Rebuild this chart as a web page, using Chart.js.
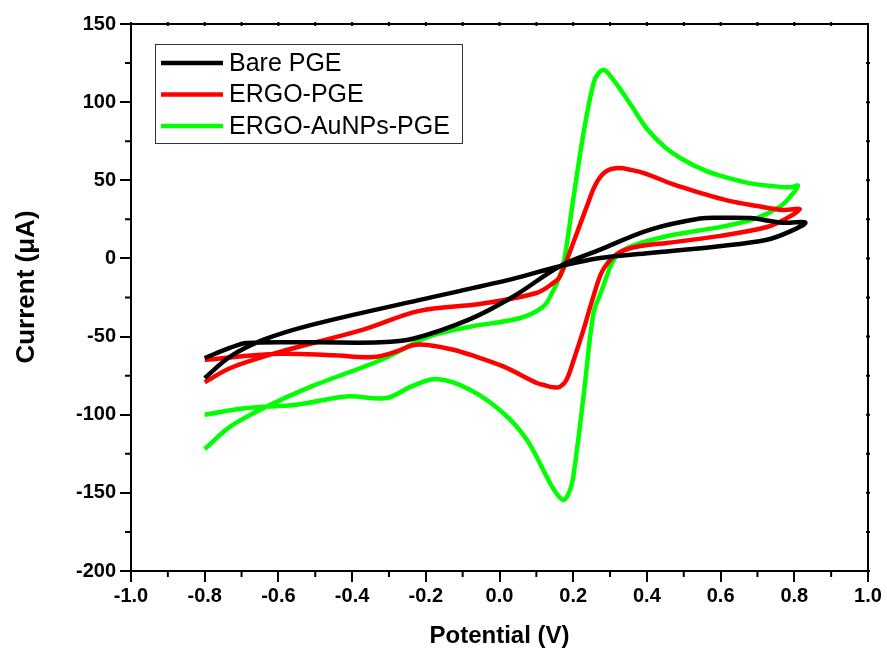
<!DOCTYPE html>
<html>
<head>
<meta charset="utf-8">
<script src="https://cdn.jsdelivr.net/npm/chart.js@4"></script>
<style>
  body { margin: 0; background: #fff; }
  canvas { display: block; }
</style>
</head>
<body>
<canvas id="cvChart" width="887" height="651"></canvas>
<script>
// Tick labels
const xTickValues = [-1.0, -0.8, -0.6, -0.4, -0.2, 0.0, 0.2, 0.4, 0.6, 0.8, 1.0];
const yTickValues = [-200, -150, -100, -50, 0, 50, 100, 150];

// Series names
const seriesNames = ['Bare PGE', 'ERGO-PGE', 'ERGO-AuNPs-PGE'];

// Bare PGE loop (forward branch, then back)
const bareX = [-0.80, -0.73, -0.64, -0.51, -0.216, 0.028, 0.164, 0.273, 0.409, 0.59, 0.726, 0.789, 0.83,
               0.77, 0.68, 0.60, 0.544, 0.409, 0.273, 0.164, 0.04, -0.08, -0.235, -0.324, -0.506, -0.686, -0.732, -0.80];
const bareY = [-76.5, -62.7, -52, -42.5, -26.5, -13.6, -5, 0.3, 3.5, 7.7, 12, 17.3, 23,
               22.8, 25.8, 26.0, 25.5, 18.4, 5.6, -5, -24, -38.8, -51.4, -53.7, -53.7, -54.1, -57.3, -63.7];

// ERGO-PGE loop
const ergoX = [-0.80, -0.73, -0.60, -0.37, -0.22, -0.05, 0.10, 0.146, 0.164, 0.20, 0.237, 0.26, 0.285, 0.32, 0.36, 0.40, 0.47, 0.544, 0.62, 0.70, 0.77, 0.815,
               0.78, 0.726, 0.59, 0.454, 0.40, 0.35, 0.32, 0.295, 0.275, 0.25, 0.228, 0.20, 0.182, 0.165, 0.146, 0.12, 0.101, 0.01, -0.08, -0.125, -0.19, -0.235, -0.279, -0.343, -0.45, -0.60, -0.80];
const ergoY = [-79.3, -70.1, -60.1, -45.6, -33.7, -29, -22.1, -15.7, -11.5, 9.9, 33.3, 47, 55, 57.8, 56.5, 54, 47.5, 42, 37, 33.5, 31, 31.5,
               25.8, 20.1, 14.1, 9.9, 8.5, 6.2, 3, -2.5, -10, -28, -45.6, -66, -77.6, -82, -82.5, -81, -79.7, -69.1, -61.6, -58.4, -55.5, -55.5, -59.5, -63.1, -62, -61, -64.8];

// ERGO-AuNPs-PGE loop
const aunpX = [-0.80, -0.73, -0.64, -0.51, -0.32, -0.19, -0.08, 0.056, 0.119, 0.145, 0.162, 0.175, 0.20, 0.228, 0.255, 0.27, 0.285, 0.30, 0.327, 0.36, 0.40, 0.45, 0.50, 0.56, 0.62, 0.68, 0.74, 0.79, 0.81,
               0.789, 0.762, 0.698, 0.608, 0.472, 0.40, 0.35, 0.325, 0.305, 0.29, 0.275, 0.255, 0.228, 0.20, 0.19, 0.175, 0.16, 0.14, 0.128, 0.074, 0.01, -0.08, -0.17, -0.24, -0.306, -0.415, -0.551, -0.686, -0.80];
const aunpY = [-122, -107.5, -95.7, -81.9, -64.8, -49.9, -43.7, -38.1, -30.7, -21, -12, -2, 37.6, 80.2, 112, 119, 120.5, 117, 108.5, 97, 83, 71, 63, 56, 51.5, 48, 46.3, 45.5, 46.5,
               39.5, 33.3, 25.8, 20.5, 15.2, 11, 7, 3.5, -3, -12, -22, -35, -88.3, -140, -149, -154.5, -152, -145, -139.5, -116, -98.9, -84, -77.2, -82, -89.3, -88.3, -93.6, -95.7, -100];

const seriesColors = ['#000000', '#ff0000', '#00ff00'];

function toPoints(xs, ys) {
    return xs.map((x, i) => ({x: x, y: ys[i]}));
}

const FONT = '"Liberation Sans", Arial, sans-serif';

// Frame, minor ticks, y title and legend box
const frameTicks = {
    id: 'frameTicks',
    afterDraw(chart) {
        const {ctx, chartArea: a, scales: {x, y}} = chart;
        ctx.save();
        ctx.strokeStyle = '#000';
        ctx.lineWidth = 2;
        ctx.beginPath();
        ctx.moveTo(a.left, a.top);
        ctx.lineTo(a.right, a.top);
        ctx.lineTo(a.right, a.bottom);
        ctx.stroke();

        // minor ticks halfway between majors
        ctx.beginPath();
        for (let i = 0; i < xTickValues.length - 1; i++) {
            const px = x.getPixelForValue((xTickValues[i] + xTickValues[i + 1]) / 2);
            ctx.moveTo(px, a.bottom);
            ctx.lineTo(px, a.bottom + 6);
        }
        for (let i = 0; i < yTickValues.length - 1; i++) {
            const py = y.getPixelForValue((yTickValues[i] + yTickValues[i + 1]) / 2);
            ctx.moveTo(a.left, py);
            ctx.lineTo(a.left - 6, py);
        }
        // tiny ticks on top and right edges
        for (let i = 0; i < xTickValues.length - 1; i++) {
            [xTickValues[i], (xTickValues[i] + xTickValues[i + 1]) / 2].forEach(v => {
                const px = x.getPixelForValue(v);
                ctx.moveTo(px, a.top - 2);
                ctx.lineTo(px, a.top + 2);
            });
        }
        for (let i = 0; i < yTickValues.length - 1; i++) {
            [yTickValues[i], (yTickValues[i] + yTickValues[i + 1]) / 2].forEach(v => {
                const py = y.getPixelForValue(v);
                ctx.moveTo(a.right - 2, py);
                ctx.lineTo(a.right + 2, py);
            });
        }
        ctx.stroke();

        // y axis title
        ctx.save();
        ctx.translate(27, 287);
        ctx.rotate(-Math.PI / 2);
        ctx.font = 'bold 26px ' + FONT;
        ctx.textAlign = 'center';
        ctx.textBaseline = 'middle';
        ctx.fillStyle = '#000';
        ctx.fillText('Current (\u03bcA)', 0, 0);
        ctx.restore();

        // legend
        ctx.lineWidth = 1;
        ctx.strokeStyle = '#333';
        ctx.strokeRect(155.5, 44.5, 307, 99);
        ctx.font = '25px ' + FONT;
        ctx.textBaseline = 'middle';
        ctx.fillStyle = '#000';
        chart.data.datasets.forEach((ds, i) => {
            const ly = 63 + i * 31.5;
            ctx.strokeStyle = ds.borderColor;
            ctx.lineWidth = 4.5;
            ctx.beginPath();
            ctx.moveTo(161, ly);
            ctx.lineTo(223, ly);
            ctx.stroke();
            ctx.fillText(ds.label, 229, ly + 1);
        });
        ctx.restore();
    }
};

const datasets = [
    {label: seriesNames[0], data: toPoints(bareX, bareY), borderColor: seriesColors[0]},
    {label: seriesNames[1], data: toPoints(ergoX, ergoY), borderColor: seriesColors[1]},
    {label: seriesNames[2], data: toPoints(aunpX, aunpY), borderColor: seriesColors[2]}
].map(ds => Object.assign(ds, {
    showLine: true,
    pointRadius: 0,
    borderWidth: 4.5,
    tension: 0.35,
    fill: false
}));

new Chart(document.getElementById('cvChart'), {
    type: 'scatter',
    data: {datasets: datasets},
    options: {
        responsive: false,
        animation: false,
        layout: {padding: {left: 0, top: 24, right: 19, bottom: 0}},
        plugins: {
            legend: {display: false},
            tooltip: {enabled: false}
        },
        scales: {
            x: {
                type: 'linear',
                min: -1.0,
                max: 1.0,
                afterBuildTicks: s => { s.ticks = xTickValues.map(v => ({value: v})); },
                afterFit: s => { s.height = 80; },
                ticks: {
                    color: '#000',
                    font: {family: FONT, size: 20, weight: 'bold'},
                    padding: 2,
                    maxRotation: 0,
                    callback: v => v.toFixed(1)
                },
                grid: {drawOnChartArea: false, drawTicks: true, tickLength: 11, tickColor: '#000', tickWidth: 2, lineWidth: 2},
                border: {display: true, color: '#000', width: 2},
                title: {
                    display: true,
                    text: 'Potential (V)',
                    color: '#000',
                    font: {family: FONT, size: 24, weight: 'bold'},
                    padding: {top: 0, bottom: 0}
                }
            },
            y: {
                type: 'linear',
                min: -200,
                max: 150,
                afterBuildTicks: s => { s.ticks = yTickValues.map(v => ({value: v})); },
                afterFit: s => { s.width = 131; },
                ticks: {
                    color: '#000',
                    font: {family: FONT, size: 20, weight: 'bold'},
                    padding: 4
                },
                grid: {drawOnChartArea: false, drawTicks: true, tickLength: 11, tickColor: '#000', tickWidth: 2, lineWidth: 2},
                border: {display: true, color: '#000', width: 2},
                title: {display: false}
            }
        }
    },
    plugins: [frameTicks]
});
</script>
</body>
</html>
